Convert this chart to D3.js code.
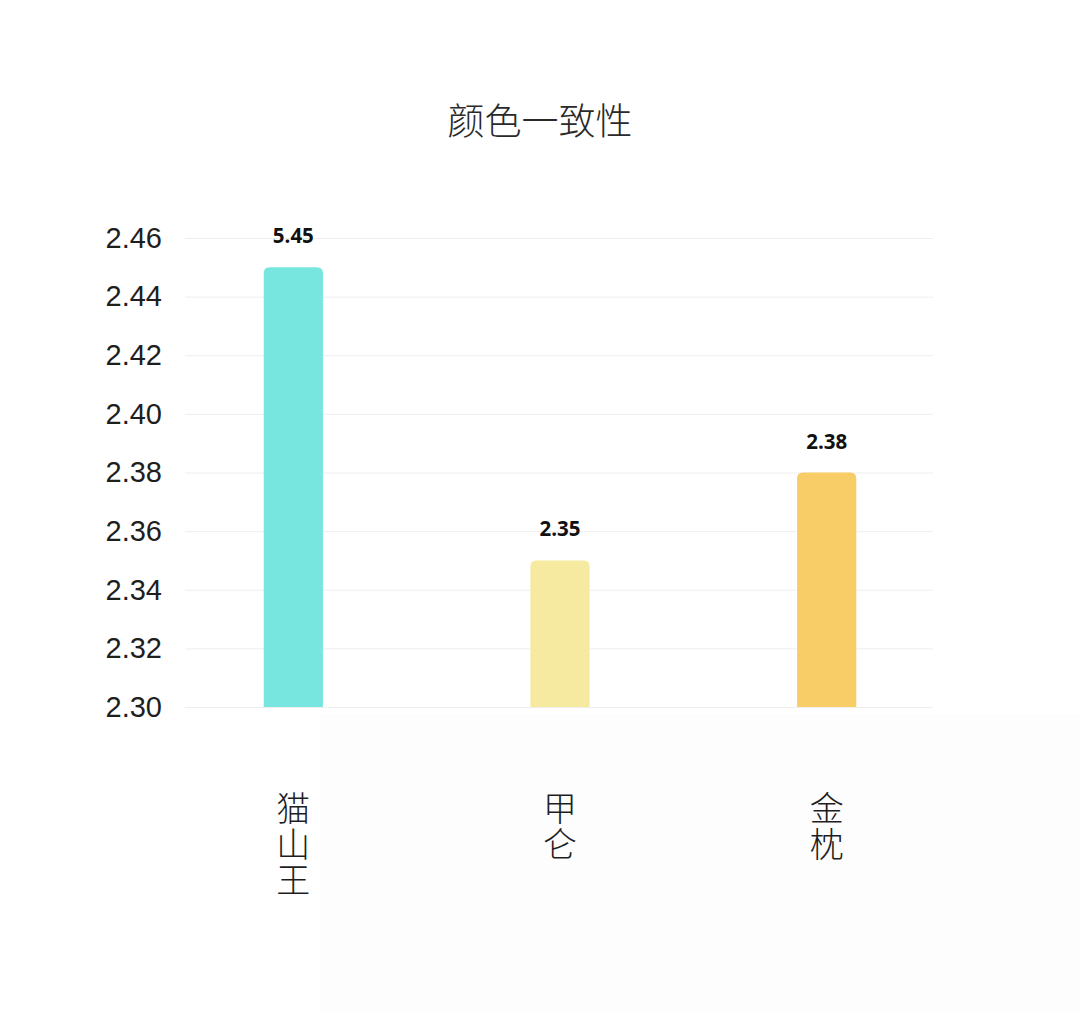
<!DOCTYPE html>
<html>
<head>
<meta charset="utf-8">
<script src="https://cdn.jsdelivr.net/npm/d3@7"></script>
<style>
  html, body { margin: 0; padding: 0; background: #fff; }
  svg { display: block; }
</style>
</head>
<body>
<svg id="chart"></svg>
<script>
// chart data
const categories = ['猫山王', '甲仑', '金枕'];
const values = [2.45, 2.35, 2.38];
const valueLabels = ['5.45', '2.35', '2.38'];
const barColors = ['#77e6df', '#f5ea9f', '#f8cd67'];
const yTicks = [2.30, 2.32, 2.34, 2.36, 2.38, 2.40, 2.42, 2.44, 2.46];
const title = '颜色一致性';

const width = 1080;
const height = 1011;

const svg = d3.select('#chart')
  .attr('width', width)
  .attr('height', height);

// faint lower background panel
svg.append('rect')
  .attr('x', 320).attr('y', 714)
  .attr('width', width - 320).attr('height', height - 714)
  .attr('fill', '#fdfdfd');

const y = d3.scaleLinear()
  .domain([2.30, 2.46])
  .range([707, 238]);

const x = d3.scaleBand()
  .domain(categories)
  .range([160, 960])
  .paddingInner(0.778)
  .paddingOuter(0.389);

// title
svg.append('text')
  .attr('x', 540)
  .attr('y', 135)
  .attr('text-anchor', 'middle')
  .attr('font-family', '"Noto Sans CJK SC", sans-serif')
  .attr('font-weight', 300)
  .attr('font-size', 37)
  .attr('fill', '#2a2a2a')
  .text(title);

// grid + y labels
const yAxis = d3.axisLeft(y)
  .tickValues(yTicks)
  .tickSize(-(933 - 185))
  .tickPadding(23)
  .tickFormat(d3.format('.2f'));

const yg = svg.append('g')
  .attr('transform', 'translate(185,0)')
  .call(yAxis);
yg.select('.domain').remove();
yg.selectAll('.tick line')
  .attr('stroke', '#eeeeee')
  .attr('stroke-width', 1);
yg.selectAll('.tick text')
  .attr('font-family', 'Liberation Sans, Arial, sans-serif')
  .attr('font-size', 29)
  .attr('fill', '#1e1e1e');

// bars with rounded top corners
const r = 6;
svg.selectAll('path.bar')
  .data(values)
  .enter()
  .append('path')
  .attr('class', 'bar')
  .attr('fill', (d, i) => barColors[i])
  .attr('d', (d, i) => {
    const x0 = x(categories[i]);
    const w = x.bandwidth();
    const top = y(d);
    const bottom = y(2.30);
    return 'M' + x0 + ',' + bottom +
      'V' + (top + r) +
      'Q' + x0 + ',' + top + ' ' + (x0 + r) + ',' + top +
      'H' + (x0 + w - r) +
      'Q' + (x0 + w) + ',' + top + ' ' + (x0 + w) + ',' + (top + r) +
      'V' + bottom + 'Z';
  });

// value labels
svg.selectAll('text.val')
  .data(values)
  .enter()
  .append('text')
  .attr('class', 'val')
  .attr('x', (d, i) => x(categories[i]) + x.bandwidth() / 2)
  .attr('y', d => y(d) - 24)
  .attr('text-anchor', 'middle')
  .attr('font-family', '"Open Sans", "Noto Sans", sans-serif')
  .attr('font-weight', 700)
  .attr('font-size', 20.5)
  .attr('fill', '#111')
  .text((d, i) => valueLabels[i]);

// vertical category labels
svg.selectAll('text.cat')
  .data(categories)
  .enter()
  .append('text')
  .attr('class', 'cat')
  .attr('x', c => x(c) + x.bandwidth() / 2)
  .attr('y', 791)
  .style('writing-mode', 'vertical-rl')
  .style('letter-spacing', '2px')
  .attr('font-family', '"Noto Sans CJK SC", sans-serif')
  .attr('font-weight', 300)
  .attr('font-size', 34)
  .attr('fill', '#1e1e1e')
  .text(c => c);
</script>
</body>
</html>
